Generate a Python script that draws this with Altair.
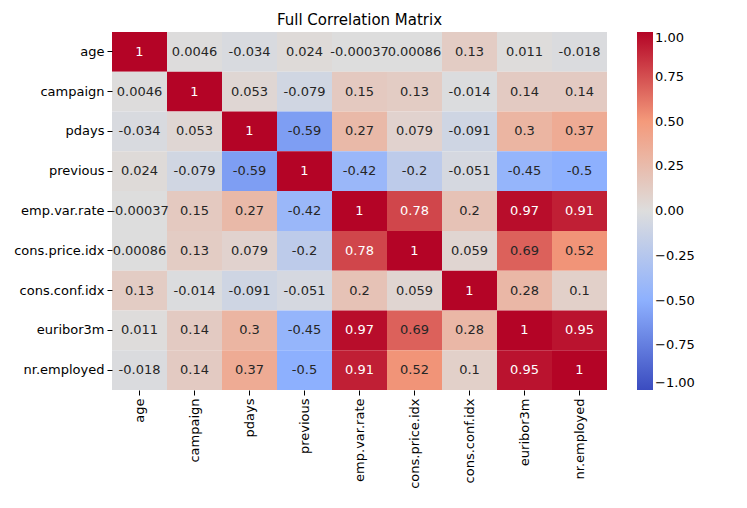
import altair as alt
import pandas as pd

names = ["age", "campaign", "pdays", "previous", "emp.var.rate",
         "cons.price.idx", "cons.conf.idx", "euribor3m", "nr.employed"]

corr = [
    [1, 0.0046, -0.034, 0.024, -0.00037, 0.00086, 0.13, 0.011, -0.018],
    [0.0046, 1, 0.053, -0.079, 0.15, 0.13, -0.014, 0.14, 0.14],
    [-0.034, 0.053, 1, -0.59, 0.27, 0.079, -0.091, 0.3, 0.37],
    [0.024, -0.079, -0.59, 1, -0.42, -0.2, -0.051, -0.45, -0.5],
    [-0.00037, 0.15, 0.27, -0.42, 1, 0.78, 0.2, 0.97, 0.91],
    [0.00086, 0.13, 0.079, -0.2, 0.78, 1, 0.059, 0.69, 0.52],
    [0.13, -0.014, -0.091, -0.051, 0.2, 0.059, 1, 0.28, 0.1],
    [0.011, 0.14, 0.3, -0.45, 0.97, 0.69, 0.28, 1, 0.95],
    [-0.018, 0.14, 0.37, -0.5, 0.91, 0.52, 0.1, 0.95, 1],
]

labels = [[f"{v:.2g}" for v in row] for row in corr]

rows = []
for i, r in enumerate(names):
    for j, c in enumerate(names):
        rows.append({"row": r, "col": c, "value": corr[i][j], "label": labels[i][j]})
df = pd.DataFrame(rows)

cmap = alt.Scale(domain=[-1, -0.5, 0, 0.5, 1],
                 range=["#3b4cc0", "#8db0fe", "#dddddd", "#f49a7b", "#b40426"],
                 interpolate="rgb")

base = alt.Chart(df).encode(
    x=alt.X("col:N", sort=names, title=None,
            axis=alt.Axis(labelAngle=-90, labelFontSize=13, labelColor="black",
                          domain=False, tickColor="black", labelPadding=3)),
    y=alt.Y("row:N", sort=names, title=None,
            axis=alt.Axis(labelFontSize=13, labelColor="black", domain=False,
                          tickColor="black", labelPadding=3)),
)

heat = base.mark_rect().encode(
    color=alt.Color("value:Q", scale=cmap, title=None,
                    legend=alt.Legend(gradientLength=358, gradientThickness=16,
                                      values=[-1, -0.75, -0.5, -0.25, 0, 0.25, 0.5, 0.75, 1],
                                      format=".2f", labelFontSize=13, labelColor="black",
                                      tickCount=9, direction="vertical", offset=30))
)

text = base.mark_text(fontSize=13).encode(
    text="label:N",
    color=alt.condition("datum.value > 0.7", alt.value("white"), alt.value("#262626")),
)

chart = (heat + text).properties(
    width=495, height=358,
    title=alt.Title("Full Correlation Matrix", fontSize=15, fontWeight="normal", color="black"),
).configure(font="DejaVu Sans").configure_view(stroke=None)

chart.save("out.html", embed_options={"renderer": "svg", "actions": False})
